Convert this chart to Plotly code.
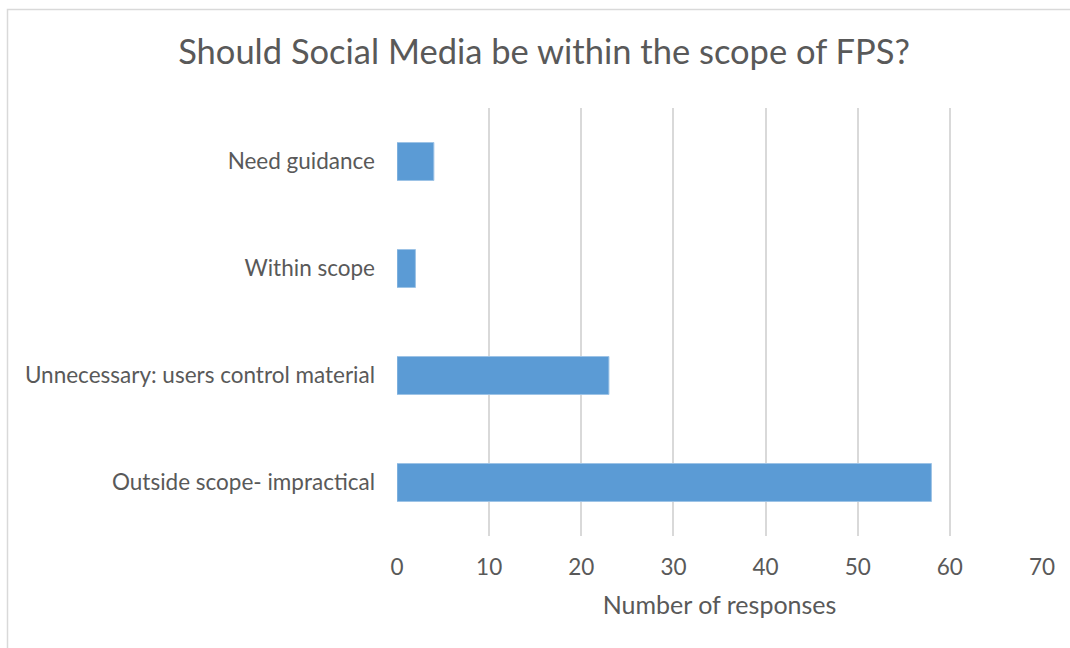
import plotly.graph_objects as go

# Survey responses, listed bottom-to-top as drawn on the category axis
categories = [
    "Outside scope- impractical",
    "Unnecessary: users control material",
    "Within scope",
    "Need guidance",
]
responses = [58, 23, 2, 4]
x_ticks = [0, 10, 20, 30, 40, 50, 60, 70]

W, H = 1070, 648
L, R, T, B = 397, 28, 108, 112
pw, ph = W - L - R, H - T - B

def px_x(p):
    return (p - L) / pw

def px_y(p):
    return (H - B - p) / ph

FONT = "Lato"
TEXT = "#595959"

fig = go.Figure(
    go.Bar(
        x=responses,
        y=categories,
        orientation="h",
        marker=dict(color="#5B9BD5", line=dict(color="#9DC3E6", width=1)),
        hoverinfo="x+y",
    )
)

fig.update_layout(
    width=W,
    height=H,
    margin=dict(l=L, r=R, t=T, b=B),
    paper_bgcolor="white",
    plot_bgcolor="white",
    bargap=0.645,
    showlegend=False,
    font=dict(family=FONT, color=TEXT),
    title=dict(
        text="Should Social Media be within the scope of FPS?",
        x=544 / W,
        xref="container",
        xanchor="center",
        y=1 - 52 / H,
        yanchor="middle",
        font=dict(family=FONT, size=34.5, color=TEXT),
    ),
    xaxis=dict(
        range=[0, 70],
        tickvals=x_ticks,
        showgrid=True,
        gridcolor="#D9D9D9",
        gridwidth=1.5,
        zeroline=False,
        showline=False,
        ticks="",
        tickfont=dict(family=FONT, size=22.5, color=TEXT),
        ticklabelstandoff=15,
        title=dict(
            text="Number of responses",
            font=dict(family=FONT, size=25, color=TEXT),
            standoff=17,
        ),
        fixedrange=True,
    ),
    yaxis=dict(
        showgrid=False,
        zeroline=False,
        showline=False,
        ticks="",
        tickfont=dict(family=FONT, size=22.5, color=TEXT),
        ticklabelstandoff=21,
        fixedrange=True,
    ),
    shapes=[
        dict(
            type="rect",
            xref="paper",
            yref="paper",
            x0=px_x(7.5),
            x1=px_x(W + 10),
            y0=px_y(H + 10),
            y1=px_y(9.5),
            line=dict(color="#D9D9D9", width=1.5),
            fillcolor="rgba(0,0,0,0)",
            layer="below",
        )
    ],
)

fig.write_html("out.html")
